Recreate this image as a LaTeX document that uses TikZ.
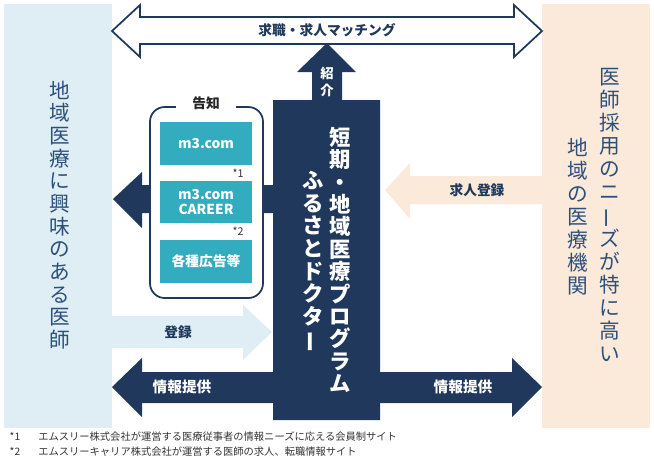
\documentclass[tikz,border=0pt]{standalone}
\usepackage{fontspec}
\setmainfont{Noto Sans CJK JP}
\usetikzlibrary{positioning}
\definecolor{navy}{RGB}{31,56,92}
\definecolor{paleblue}{RGB}{222,238,244}
\definecolor{peach}{RGB}{251,233,218}
\definecolor{siteteal}{RGB}{52,172,191}
\definecolor{paneltext}{RGB}{45,80,122}

\begin{document}
\begin{tikzpicture}[x=0.75pt, y=-0.75pt,
  vcol/.style={align=center, inner sep=0pt},
  lbl/.style={font=\fontsize{10.3}{12}\selectfont\bfseries},
  sitebox/.style={fill=siteteal, text=white, align=center, minimum width=69pt,
    font=\fontsize{10.3}{11.3}\selectfont\bfseries},
  fnote/.style={anchor=west, text=black!80, font=\fontsize{7.7}{9}\selectfont}]
  \useasboundingbox (0,0) rectangle (654,465);
  % side panels
  \fill[paleblue] (4,4) rectangle (112,428);
  \fill[peach] (542,4) rectangle (650,428);
  % matching (outline double arrow)
  \draw[navy, line width=1.3pt, fill=white] (112,31) -- (140,5) -- (140,17) -- (514,17) -- (514,5)
    -- (542,31) -- (514,57) -- (514,44) -- (140,44) -- (140,57) -- cycle;
  \node[lbl, text=navy] (match) at (327,30) {求職・求人マッチング};
  % notice arrow, behind the frame
  \fill[navy] (273,185) -- (142,185) -- (142,172) -- (113,199) -- (142,228) -- (142,213) -- (273,213) -- cycle;
  \draw[navy, line width=1.3pt, fill=white, rounded corners=11pt] (150,107) rectangle (263,298);
  \node[lbl, fill=white, inner xsep=12pt, text=black!85] (notice) at (206,103) {告知};
  \node[sitebox, minimum height=32pt] (mthree) at (206,143.5) {m3.com};
  \node[sitebox, minimum height=31.5pt] (career) at (206,202) {m3.com\\CAREER};
  \node[sitebox, minimum height=32pt] (ads) at (206,261.5) {各種広告等};
  \node[text=black!80, font=\fontsize{8}{9}\selectfont] (markone) at (238,173) {*1};
  \node[text=black!80, font=\fontsize{8}{9}\selectfont] (marktwo) at (238,231) {*2};
  % program box with the introduction arrow
  \fill[navy] (273,420) -- (273,100) -- (312,100) -- (312,72) -- (297,72) -- (327,43) -- (356,72)
    -- (342,72) -- (342,100) -- (380,100) -- (380,420) -- cycle;
  \node[vcol, text=white, font=\fontsize{10}{13}\selectfont\bfseries] (intro) at (327,82) {紹\\介};
  \node[vcol, text=white, font=\fontsize{16}{16.8}\selectfont\bfseries] (progname) at (340,260)
    {短\\期\\・\\地\\域\\医\\療\\プ\\ロ\\グ\\ラ\\ム};
  \node[vcol, text=white, font=\fontsize{16}{17}\selectfont\bfseries] (furusato) at (313,262)
    {ふ\\る\\さ\\と\\ド\\ク\\タ\\\rotatebox[origin=c]{90}{ー}};
  % information arrows
  \fill[navy] (273,372) -- (142,372) -- (142,358) -- (112,387) -- (142,417) -- (142,403) -- (273,403) -- cycle;
  \fill[navy] (380,372) -- (512,372) -- (512,358) -- (542,387) -- (512,417) -- (512,403) -- (380,403) -- cycle;
  \node[text=white, font=\fontsize{11}{12}\selectfont\bfseries] (infoleft) at (182,387) {情報提供};
  \node[text=white, font=\fontsize{11}{12}\selectfont\bfseries] (inforight) at (463,387) {情報提供};
  % registration arrows
  \fill[paleblue] (112,316) -- (243,316) -- (243,305) -- (272,332) -- (243,360) -- (243,348) -- (112,348) -- cycle;
  \node[lbl, text=navy] (register) at (178,332) {登録};
  \fill[peach] (542,176) -- (410,176) -- (410,163) -- (385,190) -- (410,219) -- (410,204) -- (542,204) -- cycle;
  \node[lbl, text=navy] (jobpost) at (477,190) {求人登録};
  % panel texts
  \node[vcol, text=paneltext, font=\fontsize{15.5}{17}\selectfont] (doctors) at (60,215)
    {地\\域\\医\\療\\に\\興\\味\\の\\あ\\る\\医\\師};
  \node[vcol, text=paneltext, font=\fontsize{15.5}{17.25}\selectfont] (needs) at (610,215)
    {医\\師\\採\\用\\の\\ニ\\\rotatebox[origin=c]{90}{ー}\\ズ\\が\\特\\に\\高\\い};
  \node[vcol, text=paneltext, font=\fontsize{15.5}{17.25}\selectfont] (hospitals) at (578,217)
    {地\\域\\の\\医\\療\\機\\関};
  % footnotes
  \node[fnote] (fnone) at (5,437) {\makebox[21.5pt][l]{*1}エムスリー株式会社が運営する医療従事者の情報ニーズに応える会員制サイト};
  \node[fnote] (fntwo) at (5,452) {\makebox[21.5pt][l]{*2}エムスリーキャリア株式会社が運営する医師の求人、転職情報サイト};
\end{tikzpicture}
\end{document}
